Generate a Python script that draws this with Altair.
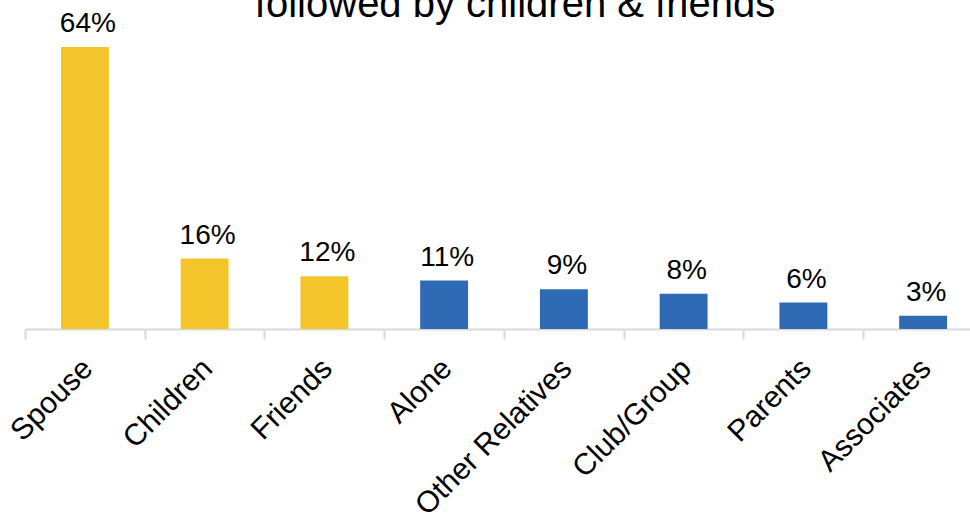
import altair as alt
import pandas as pd

categories = ["Spouse", "Children", "Friends", "Alone", "Other Relatives", "Club/Group", "Parents", "Associates"]
values = [64, 16, 12, 11, 9, 8, 6, 3]
labels = ["64%", "16%", "12%", "11%", "9%", "8%", "6%", "3%"]
groups = ["top", "top", "top", "other", "other", "other", "other", "other"]
title_text = "followed by children & friends"

df = pd.DataFrame({"cat": categories, "val": values, "lab": labels, "grp": groups})

FONT = "Liberation Sans"

x = alt.X("cat:N", sort=categories, title=None,
          scale=alt.Scale(paddingInner=0.6, paddingOuter=0.3, range=[0, 958]),
          axis=alt.Axis(labelAngle=-45, labelFontSize=30, labelFont=FONT, labelColor="#000000",
                        domainColor="#d9d9d9", domainWidth=2, tickColor="#d9d9d9", tickWidth=2,
                        tickSize=10, tickOffset=-60, labelPadding=14, labelOffset=52, labelLimit=400))
y = alt.Y("val:Q", scale=alt.Scale(domain=[0, 64], nice=False), axis=None)

bars = alt.Chart(df).mark_bar().encode(
    x=x, y=y,
    color=alt.Color("grp:N", scale=alt.Scale(domain=["top", "other"], range=["#F4C52A", "#2F6BB5"]), legend=None),
)
text = alt.Chart(df).mark_text(fontSize=28, font=FONT, color="#000000", baseline="alphabetic", dy=-15, dx=3).encode(
    x=alt.X("cat:N", sort=categories), y=y, text="lab:N"
)
title = alt.Chart(pd.DataFrame({"t": [title_text]})).mark_text(
    fontSize=40, font=FONT, color="#000000", baseline="alphabetic", align="center"
).encode(x=alt.value(490), y=alt.value(-30), text="t:N")

chart = alt.layer(bars, text, title).properties(
    width=945, height=282,
    autosize=alt.AutoSizeParams(type="none"),
    padding={"left": 25, "top": 47, "right": 0, "bottom": 185},
).configure_view(stroke=None)

chart.save("out.html", embed_options={"renderer": "svg", "actions": False})
